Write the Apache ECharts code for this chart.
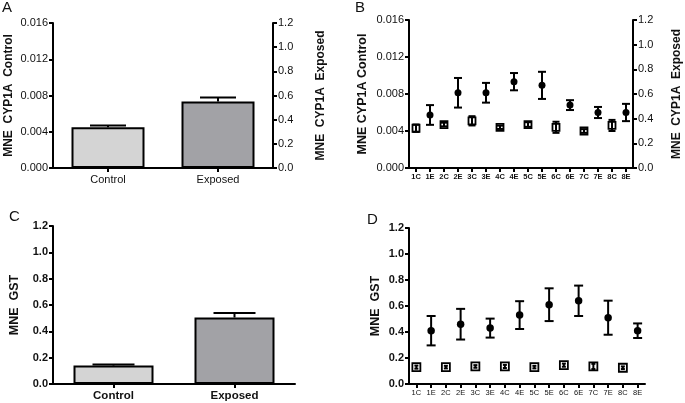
<!DOCTYPE html>
<html><head><meta charset="utf-8">
<script src="https://cdn.jsdelivr.net/npm/echarts@6/dist/echarts.min.js"></script>
<style>html,body{margin:0;padding:0;background:#fff}#c{width:685px;height:403px}</style>
</head><body><div id="c"></div>
<script>
// ---- data ----
const groupCats = ['Control', 'Exposed'];
// Panel A: CYP1A (control on left axis, exposed on right axis)
const cypControlMean = 0.0045, cypControlErr = 0.00018;
const cypExposedMean = 0.55, cypExposedErr = 0.034;
// Panel C: GST
const gstControlMean = 0.14, gstControlErr = 0.008;
const gstExposedMean = 0.505, gstExposedErr = 0.035;
// Panels B & D: by site
const siteCats = ['1C','1E','2C','2E','3C','3E','4C','4E','5C','5E','6C','6E','7C','7E','8C','8E'];
const siteCypControl = [0.0043,0.0047,0.0051,0.0044,0.0047,0.0044,0.0040,0.0046];
const siteCypControlErr = [0.0004,0.0002,0.0005,0.00018,0.00025,0.0006,0.0002,0.0006];
const siteCypExposed = [0.43,0.61,0.61,0.70,0.67,0.51,0.45,0.45];
const siteCypExposedErr = [0.08,0.12,0.08,0.07,0.11,0.04,0.045,0.07];
const siteGstControl = [0.13,0.13,0.135,0.135,0.13,0.145,0.135,0.125];
const siteGstControlErr = [0.012,0.01,0.01,0.012,0.01,0.012,0.02,0.01];
const siteGstExposed = [0.41,0.46,0.43,0.53,0.61,0.64,0.51,0.41];
const siteGstExposedErr = [0.113,0.118,0.073,0.107,0.126,0.117,0.131,0.056];
const cypLeftTicks = {min:0, max:0.016, interval:0.004};
const rightTicks = {min:0, max:1.2, interval:0.2};

// ---- helpers ----
const FONT = 'Liberation Sans, Arial, sans-serif';
const C_LIGHT = '#d4d4d4', C_DARK = '#a2a2a6';
function errSeries(xi, yi, data, capHalf, upperOnly) {
  return {
    type:'custom', xAxisIndex:xi, yAxisIndex:yi, z:10, data:data,
    renderItem:function(params, api){
      const x = api.value(0), v = api.value(1), e = api.value(2);
      const hi = api.coord([x, v + e]);
      const lo = api.coord([x, upperOnly ? v : v - e]);
      const st = {stroke:'#000', lineWidth:2};
      const ch = [
        {type:'line', shape:{x1:hi[0], y1:hi[1], x2:lo[0], y2:lo[1]}, style:st},
        {type:'line', shape:{x1:hi[0]-capHalf, y1:hi[1], x2:hi[0]+capHalf, y2:hi[1]}, style:st}
      ];
      if (!upperOnly) ch.push({type:'line', shape:{x1:lo[0]-capHalf, y1:lo[1], x2:lo[0]+capHalf, y2:lo[1]}, style:st});
      return {type:'group', children:ch};
    }
  };
}
function yAx(gi, pos, t, dec, name, gap, bold, nameSize) {
  return {
    type:'value', gridIndex:gi, position:pos, min:t.min, max:t.max, interval:t.interval,
    name:name, nameLocation:'middle', nameGap:gap,
    nameTextStyle:{fontFamily:FONT, fontSize:nameSize, fontWeight:'bold', color:'#111'},
    axisLine:{show:true, lineStyle:{color:'#000', width:2}},
    axisTick:{show:true, length:4, lineStyle:{color:'#000', width:2}},
    axisLabel:{margin:5, fontFamily:FONT, fontSize:11, fontWeight:bold?'bold':'normal', color:'#111',
      formatter:function(v){return v.toFixed(dec);}},
    splitLine:{show:false}
  };
}
function xAx(gi, cats, fs, bold, margin) {
  return {
    type:'category', gridIndex:gi, data:cats,
    axisLine:{show:true, onZero:false, lineStyle:{color:'#000', width:2}},
    axisTick:{show:true, alignWithLabel:true, length:4, lineStyle:{color:'#000', width:2}},
    axisLabel:{interval:0, margin:margin, fontFamily:FONT, fontSize:fs, fontWeight:bold?'bold':'normal', color:'#111'}
  };
}
const ctrlIdx = siteCypControl.map((_, i) => 2*i);
const expIdx = siteCypExposed.map((_, i) => 2*i+1);

const option = {
  animation:false,
  backgroundColor:'#fff',
  grid:[
    {left:53, top:23, width:220, height:145, outerBoundsMode:'none'},
    {left:409, top:20, width:224, height:148, outerBoundsMode:'none'},
    {left:53, top:226, width:242, height:158, outerBoundsMode:'none'},
    {left:409, top:228, width:236, height:156, outerBoundsMode:'none'}
  ],
  xAxis:[
    xAx(0, groupCats, 11, false, 6),
    xAx(1, siteCats, 7.5, true, 5),
    xAx(2, groupCats, 11.5, true, 6),
    xAx(3, siteCats, 7.5, false, 5)
  ],
  yAxis:[
    yAx(0, 'left', cypLeftTicks, 3, 'MNE  CYP1A  Control', 38, false, 12),
    yAx(0, 'right', rightTicks, 1, 'MNE  CYP1A  Exposed', 42, false, 12),
    yAx(1, 'left', cypLeftTicks, 3, 'MNE CYP1A Control', 40, false, 12.5),
    yAx(1, 'right', rightTicks, 1, 'MNE  CYP1A  Exposed', 38, false, 12),
    yAx(2, 'left', rightTicks, 1, 'MNE  GST', 32, true, 12.5),
    yAx(3, 'left', rightTicks, 1, 'MNE  GST', 27, true, 12.5)
  ],
  graphic:[
    {type:'text', left:2, top:0, style:{text:'A', font:'15px '+FONT, fill:'#111'}},
    {type:'text', left:355, top:0, style:{text:'B', font:'15px '+FONT, fill:'#111'}},
    {type:'text', left:9, top:209, style:{text:'C', font:'15px '+FONT, fill:'#111'}},
    {type:'text', left:367, top:212, style:{text:'D', font:'15px '+FONT, fill:'#111'}}
  ],
  series:[
    // A
    {type:'bar', xAxisIndex:0, yAxisIndex:0, barWidth:73, barGap:'-100%', data:[cypControlMean,'-'],
      itemStyle:{color:C_LIGHT, borderColor:'#000', borderWidth:2}},
    {type:'bar', xAxisIndex:0, yAxisIndex:1, barWidth:73, barGap:'-100%', data:['-',cypExposedMean],
      itemStyle:{color:C_DARK, borderColor:'#000', borderWidth:2}},
    errSeries(0, 0, [[0, cypControlMean, cypControlErr]], 18, true),
    errSeries(0, 1, [[1, cypExposedMean, cypExposedErr]], 18, true),
    // C
    {type:'bar', xAxisIndex:2, yAxisIndex:4, barWidth:80, barGap:'-100%', data:[gstControlMean,'-'],
      itemStyle:{color:C_LIGHT, borderColor:'#000', borderWidth:2}},
    {type:'bar', xAxisIndex:2, yAxisIndex:4, barWidth:80, barGap:'-100%', data:['-',gstExposedMean],
      itemStyle:{color:C_DARK, borderColor:'#000', borderWidth:2}},
    errSeries(2, 4, [[0, gstControlMean, gstControlErr],[1, gstExposedMean, gstExposedErr]], 21, true),
    // B
    {type:'scatter', xAxisIndex:1, yAxisIndex:2, symbol:'rect', symbolSize:7, z:5,
      data:siteCypControl.map((v,i)=>[ctrlIdx[i], v]),
      itemStyle:{color:'#fff', borderColor:'#000', borderWidth:1.8, opacity:1}},
    errSeries(1, 2, siteCypControl.map((v,i)=>[ctrlIdx[i], v, siteCypControlErr[i]]), 3.5, false),
    {type:'scatter', xAxisIndex:1, yAxisIndex:3, symbol:'circle', symbolSize:7, z:5,
      data:siteCypExposed.map((v,i)=>[expIdx[i], v]),
      itemStyle:{color:'#000', opacity:1}},
    errSeries(1, 3, siteCypExposed.map((v,i)=>[expIdx[i], v, siteCypExposedErr[i]]), 4, false),
    // D
    {type:'scatter', xAxisIndex:3, yAxisIndex:5, symbol:'rect', symbolSize:8, z:5,
      data:siteGstControl.map((v,i)=>[ctrlIdx[i], v]),
      itemStyle:{color:'#fff', borderColor:'#000', borderWidth:1.8, opacity:1}},
    errSeries(3, 5, siteGstControl.map((v,i)=>[ctrlIdx[i], v, siteGstControlErr[i]]), 2, false),
    {type:'scatter', xAxisIndex:3, yAxisIndex:5, symbol:'circle', symbolSize:7.5, z:5,
      data:siteGstExposed.map((v,i)=>[expIdx[i], v]),
      itemStyle:{color:'#000', opacity:1}},
    errSeries(3, 5, siteGstExposed.map((v,i)=>[expIdx[i], v, siteGstExposedErr[i]]), 4.5, false)
  ]
};
const chart = echarts.init(document.getElementById('c'), null, {renderer:'canvas'});
chart.setOption(option);
</script></body></html>
